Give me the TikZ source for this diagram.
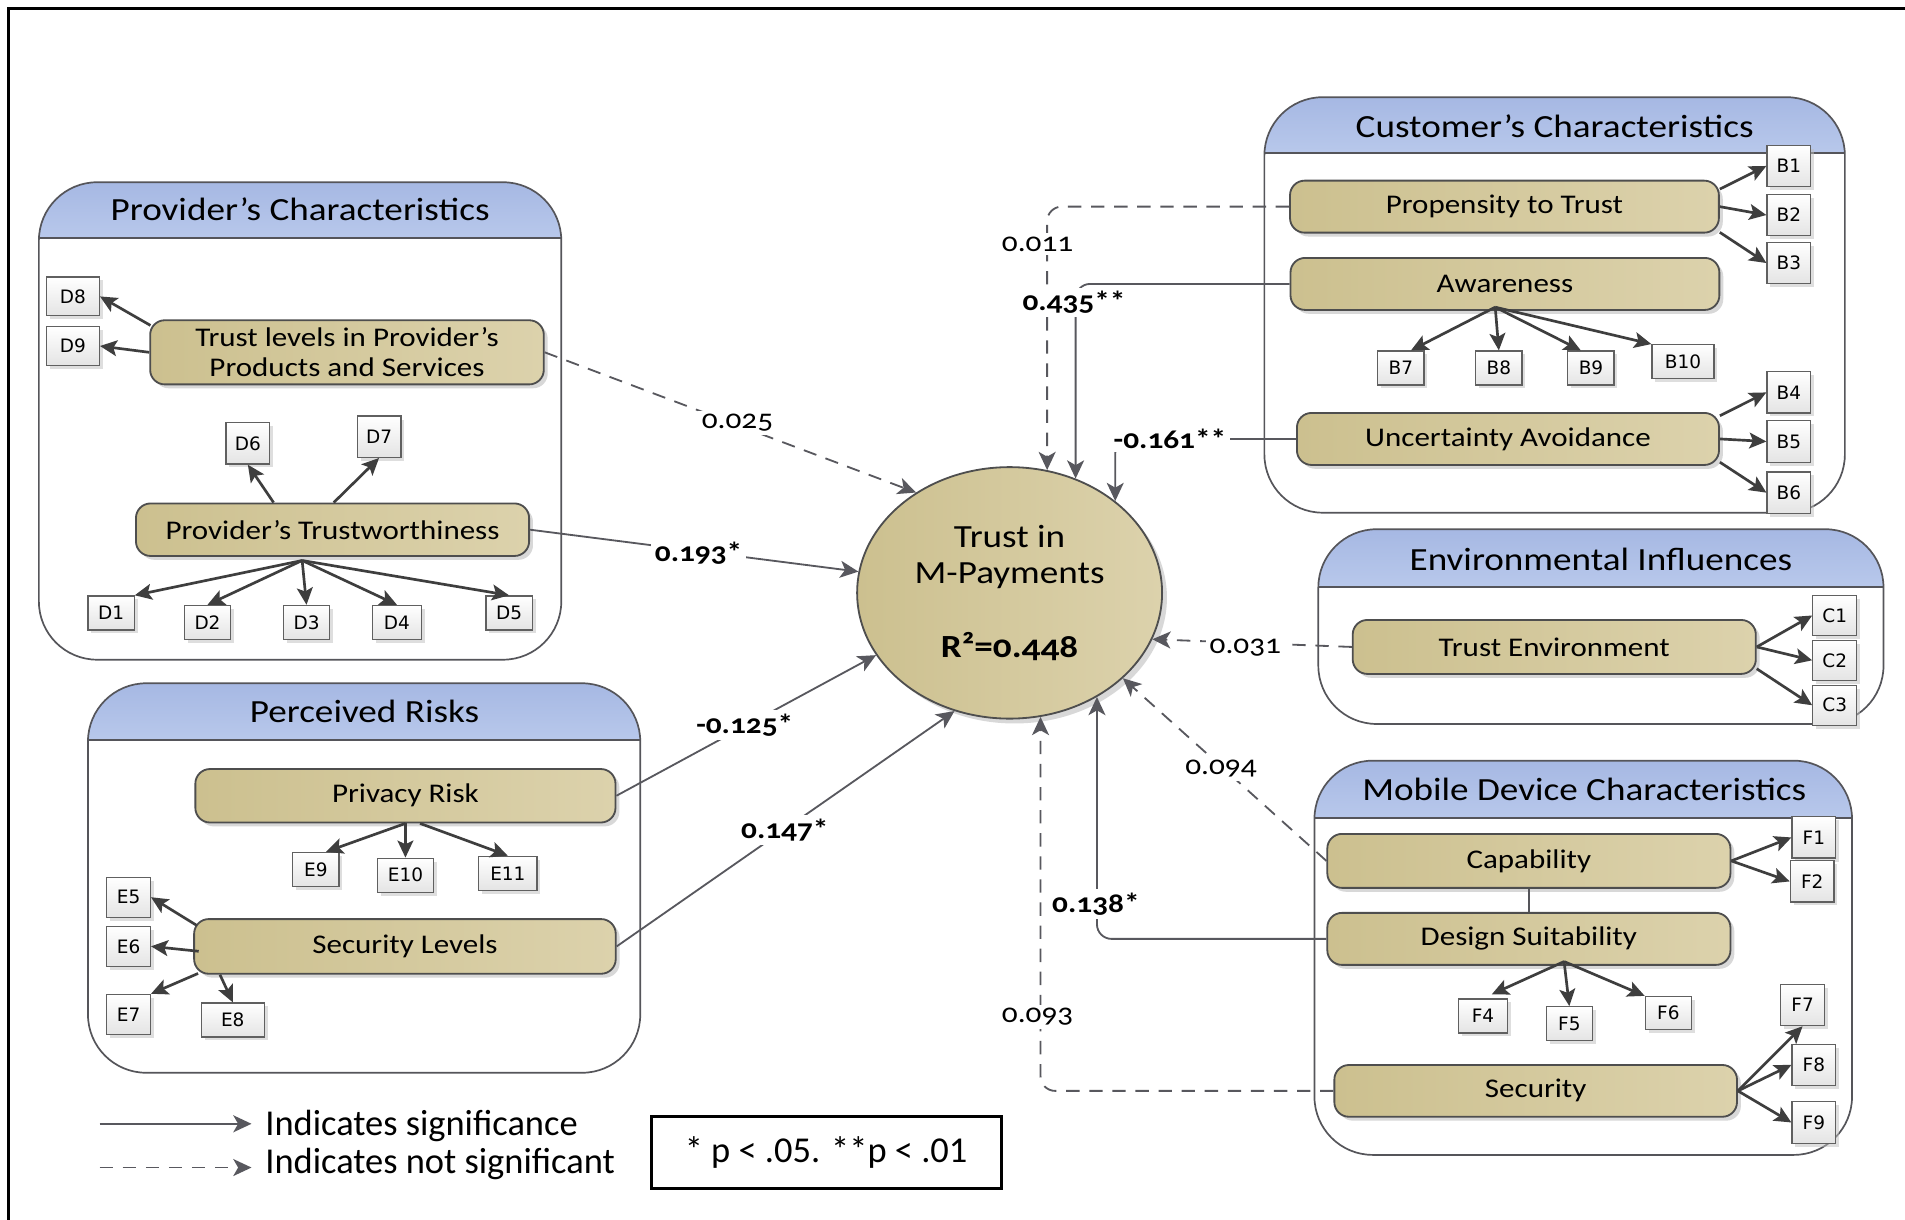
\documentclass[tikz,border=0pt]{standalone}
\usepackage{fontspec}
\setmainfont{Carlito}[FakeStretch=1.15]
\newfontfamily\numfont{Carlito}[FakeStretch=1.15,Numbers=OldStyle]
\newfontfamily\legfont{Carlito}
\newfontfamily\idxfont{DejaVu Sans}
\usetikzlibrary{arrows.meta,shapes.geometric,shadows,calc}
\definecolor{hdrT}{RGB}{166,184,227}
\definecolor{hdrB}{RGB}{184,200,235}
\definecolor{tanL}{RGB}{204,192,143}
\definecolor{tanR}{RGB}{220,210,172}
\definecolor{pline}{RGB}{85,85,90}
\definecolor{nborder}{RGB}{78,78,78}
\definecolor{iarrow}{RGB}{62,62,62}
\definecolor{cpath}{RGB}{88,88,94}
\definecolor{boxB}{RGB}{228,228,228}
\tikzset{
  panelline/.style={draw=pline, line width=0.7pt},
  cat/.style={draw=nborder, line width=0.75pt, rounded corners=6pt, left color=tanL, right color=tanR,
     drop shadow={shadow xshift=1.6pt, shadow yshift=-1.6pt, fill=black!30, opacity=0.5},
     font=\fontsize{11.1pt}{12.5pt}\selectfont, align=center, inner sep=0pt},
  ind/.style={draw=nborder!90, line width=0.5pt, top color=white, bottom color=boxB,
     drop shadow={shadow xshift=1.4pt, shadow yshift=-1.4pt, fill=black!25, opacity=0.5},
     font=\idxfont\fontsize{7.6pt}{9pt}\selectfont, inner sep=0pt, minimum width=18pt, minimum height=17pt},
  indS/.style={ind, minimum width=19pt, minimum height=14pt},
  ld/.style={draw=iarrow, line width=1.1pt, -{Stealth[length=7pt,width=6.5pt,inset=1.5pt]}},
  sig/.style={draw=cpath, line width=0.75pt, -{Stealth[length=7.5pt,width=7pt,inset=2pt]}},
  nsig/.style={sig, dash pattern=on 5.5pt off 4pt},
  ttl/.style={font=\fontsize{13.3pt}{15pt}\selectfont, inner sep=0pt},
  lab/.style={font=\numfont\fontsize{11.2pt}{13pt}\selectfont, fill=white, inner sep=1.5pt},
  blab/.style={font=\numfont\bfseries\fontsize{11.2pt}{13pt}\selectfont, fill=white, inner sep=1.5pt},
  leg/.style={font=\legfont\fontsize{15pt}{17pt}\selectfont, inner sep=0pt},
}
\newcommand\mypanel[5]{%
  \begin{scope}
    \clip[rounded corners=24pt] (#1,#2) rectangle (#3,#4);
    \fill[white] (#1,#2) rectangle (#3,#4);
    \shade[top color=hdrT, bottom color=hdrB] (#1,#2) rectangle (#3,#5);
  \end{scope}
  \draw[panelline, rounded corners=24pt] (#1,#2) rectangle (#3,#4);
  \draw[panelline] (#1,#5) -- (#3,#5);
}
\begin{document}
\begin{tikzpicture}[x=0.5pt,y=-0.5pt]
\useasboundingbox (0,0) rectangle (1568,1004);
\fill[white] (0,0) rectangle (1568,1004);
\draw[line width=1.2pt] (7,1004) -- (7,7) -- (1568,7);

% panels
\mypanel{32}{150}{462}{543}{196}
\node[ttl] (tProv) at (247,172) {Provider’s Characteristics};
\mypanel{72.4}{562.4}{527}{883}{609}
\node[ttl] (tPerc) at (300,585.5) {Perceived Risks};
\mypanel{1040.7}{80}{1518.5}{422}{126.2}
\node[ttl] (tCust) at (1279.6,103.5) {Customer’s Characteristics};
\mypanel{1085.1}{435.6}{1550.3}{595.9}{482.9}
\node[ttl] (tEnv) at (1317.7,460.5) {Environmental Influences};
\mypanel{1081.9}{626.1}{1524.4}{950.6}{673.5}
\node[ttl] (tMob) at (1304,649.5) {Mobile Device Characteristics};

% provider's characteristics
\node[cat, minimum width=162pt, minimum height=26.4pt] (trust) at (285.6,290) {Trust levels in Provider’s\\Products and Services};
\node[cat, minimum width=161.8pt, minimum height=21.6pt] (trustw) at (273.7,436) {Provider’s Trustworthiness};
\node[ind, minimum width=21.8pt, minimum height=16pt] (D8) at (60,244) {D8};
\node[ind, minimum width=21.8pt, minimum height=16pt] (D9) at (60,284.8) {D9};
\node[ind] (D6) at (204,365) {D6};
\node[ind] (D7) at (312,359.5) {D7};
\node[indS] (D1) at (91.4,504.5) {D1};
\node[indS] (D2) at (170.8,512.3) {D2};
\node[indS] (D3) at (252.3,512.3) {D3};
\node[indS, minimum width=20pt] (D4) at (326.7,512.3) {D4};
\node[indS] (D5) at (419,504.5) {D5};

% perceived risks
\node[cat, minimum width=172.9pt, minimum height=22pt] (priv) at (333.7,655) {Privacy Risk};
\node[cat, minimum width=173.5pt, minimum height=22.5pt] (secl) at (333.3,779) {Security Levels};
\node[indS] (E9) at (260,715.6) {E9};
\node[indS, minimum width=23pt] (E10) at (333.7,720.4) {E10};
\node[indS, minimum width=24pt] (E11) at (418,718.8) {E11};
\node[ind, minimum height=16.5pt] (E5) at (105.8,738.5) {E5};
\node[ind, minimum height=16.5pt] (E6) at (105.8,778.9) {E6};
\node[ind, minimum height=16.5pt] (E7) at (105.8,835) {E7};
\node[indS, minimum width=26pt] (E8) at (191.6,839.5) {E8};

% customer's characteristics
\node[cat, minimum width=176.5pt, minimum height=21.4pt] (prop) at (1238.3,170.1) {Propensity to Trust};
\node[cat, minimum width=176.5pt, minimum height=21.4pt] (aware) at (1238.7,233.7) {Awareness};
\node[cat, minimum width=173.7pt, minimum height=21.4pt] (unc) at (1241.2,361.3) {Uncertainty Avoidance};
\node[ind] (B1) at (1472.4,136.6) {B1};
\node[ind] (B2) at (1472.4,177) {B2};
\node[ind] (B3) at (1472.4,216.5) {B3};
\node[ind] (B4) at (1472.4,323) {B4};
\node[ind] (B5) at (1472.4,363.4) {B5};
\node[ind] (B6) at (1472.4,405.5) {B6};
\node[indS] (B7) at (1153,302.9) {B7};
\node[indS] (B8) at (1233.7,302.9) {B8};
\node[indS] (B9) at (1309.5,302.9) {B9};
\node[indS, minimum width=25.5pt] (B10) at (1385.2,297.7) {B10};

% environmental influences
\node[cat, minimum width=165.9pt, minimum height=22.2pt] (tenv) at (1279.3,532.5) {Trust Environment};
\node[ind, minimum height=16.5pt] (C1) at (1510.1,506.6) {C1};
\node[ind, minimum height=16.5pt] (C2) at (1510.1,543.5) {C2};
\node[ind, minimum height=16.5pt] (C3) at (1510.1,580.5) {C3};

% mobile device characteristics
\node[cat, minimum width=165.9pt, minimum height=22.2pt] (cap) at (1258.4,708.6) {Capability};
\node[cat, minimum width=165.9pt, minimum height=21.4pt] (design) at (1258.4,772.8) {Design Suitability};
\node[cat, minimum width=165.7pt, minimum height=21.3pt] (sec) at (1264,897.9) {Security};
\node[ind] (F1) at (1493,689.3) {F1};
\node[ind] (F2) at (1491.6,725.5) {F2};
\node[indS, minimum width=20pt] (F4) at (1220.6,836.2) {F4};
\node[indS] (F5) at (1291.7,842.6) {F5};
\node[indS, minimum height=13.5pt] (F6) at (1373.2,833.7) {F6};
\node[ind] (F7) at (1483.7,827.2) {F7};
\node[ind] (F8) at (1493,876.5) {F8};
\node[ind] (F9) at (1493,923.9) {F9};

% central construct
\node[ellipse, draw=nborder, line width=0.75pt, left color=tanL, right color=tanR,
  drop shadow={shadow xshift=2pt, shadow yshift=-2pt, fill=black!30, opacity=0.5},
  minimum width=125.5pt, minimum height=103.5pt, inner sep=0pt, align=center,
  font=\fontsize{13.3pt}{15pt}\selectfont] (circ) at (831,488)
  {Trust in\\M-Payments\\[15.5pt]{\numfont\bfseries R²=0.448}};

% indicator arrows
\draw[ld] ($(trust.north west)+(1,5)$) -- (D8.east);
\draw[ld] (trust.west) -- (D9.east);
\draw[ld] ($(trustw.north)+(-48.5,0)$) -- (D6.south);
\draw[ld] ($(trustw.north)+(1,0)$) -- (D7.south);
\coordinate (fD) at ($(trustw.south)+(-25,3)$);
\draw[ld] (fD) -- (D1.north east);
\draw[ld] (fD) -- (D2.north);
\draw[ld] (fD) -- (D3.north);
\draw[ld] (fD) -- (D4.north);
\draw[ld] (fD) -- (D5.north);

\draw[ld] (priv.south) -- (E9.60);
\draw[ld] (priv.south) -- (E10.north);
\draw[ld] ($(priv.south)+(12,0)$) -- (E11.north);
\draw[ld] ($(secl.north west)+(3,6)$) -- (E5.east);
\draw[ld] ($(secl.west)+(4.5,4)$) -- (E6.east);
\draw[ld] ($(secl.south west)+(4,-1)$) -- (E7.north east);
\draw[ld] ($(secl.south west)+(22,0)$) -- (E8.north);

\draw[ld] ($(prop.north east)+(0,7.7)$) -- (B1.west);
\draw[ld] (prop.east) -- (B2.west);
\draw[ld] ($(prop.south east)+(0,-1)$) -- (B3.west);
\coordinate (fB) at ($(aware.south)+(-8,-3)$);
\draw[ld] (fB) -- (B7.60);
\draw[ld] (fB) -- (B8.north);
\draw[ld] (fB) -- (B9.120);
\draw[ld] (fB) -- (B10.north west);
\draw[ld] ($(unc.north east)+(0,3)$) -- (B4.west);
\draw[ld] (unc.east) -- (B5.west);
\draw[ld] ($(unc.south east)+(0,-3)$) -- (B6.west);

\draw[ld] (tenv.east) -- (C1.west);
\draw[ld] (tenv.east) -- (C2.west);
\draw[ld] ($(tenv.south east)+(0,-5)$) -- (C3.west);

\draw[ld] (cap.east) -- (F1.west);
\draw[ld] (cap.east) -- (F2.west);
\draw[draw=pline, line width=0.6pt] (cap.south) -- (design.north);
\coordinate (fF) at ($(design.south)+(29,-3.5)$);
\draw[ld, shorten >=4pt] (fF) -- (F4.north);
\draw[ld] (fF) -- (F5.north);
\draw[ld] (fF) -- (F6.north west);
\draw[ld] (sec.east) -- (F7.south);
\draw[ld] (sec.east) -- (F8.west);
\draw[ld] (sec.east) -- (F9.west);

% structural paths
\draw[nsig] (trust.east) -- (circ.133);
\draw[sig] (trustw.east) -- (circ.172);
\draw[sig] (priv.east) -- (circ.205.5);
\draw[sig] (secl.east) -- (circ.245.7);
\draw[nsig, rounded corners=6pt] (prop.west) -| (circ.73.9);
\draw[sig, rounded corners=6pt] (aware.west) -| (circ.60);
\draw[sig, rounded corners=6pt] (unc.west) -| (circ.41.2);
\draw[nsig] (tenv.west) -- (circ.-18.4);
\draw[nsig] (cap.west) -- (circ.-37.5);
\draw[sig, rounded corners=6pt] (design.west) -| (circ.-50.2);
\draw[nsig, rounded corners=6pt] (sec.west) -| (circ.-76.7);

% path labels
\node[lab] (l025) at (607,348) {0.025};
\node[blab] (l193) at (575,455) {0.193*};
\node[blab] (l125) at (613,597) {-0.125*};
\node[blab] (l147) at (646,683) {0.147*};
\node[lab] (l011) at (854,201) {0.011};
\node[blab] (l435) at (884,249) {0.435**};
\node[blab] (l161) at (963,361) {-0.161**};
\node[lab] (l031) at (1025,533) {0.031};
\node[lab] (l094) at (1005,633) {0.094};
\node[blab] (l138) at (902,744) {0.138*};
\node[lab] (l093) at (854,837) {0.093};

% legend
\coordinate (ls1) at (82,925);
\coordinate (le1) at (207,925);
\coordinate (ls2) at (82,961);
\coordinate (le2) at (207,961);
\node[leg, anchor=west] (leg1) at (218,927) {Indicates significance};
\node[leg, anchor=west] (leg2) at (218,958) {Indicates not significant};
\draw[sig] (ls1) -- (le1);
\draw[nsig] (ls2) -- (le2);
\node[leg, draw=black, line width=1.2pt, minimum width=144pt, minimum height=29.5pt] (pbox) at (680,948.5) {* p < .05. **p < .01};
\end{tikzpicture}
\end{document}
